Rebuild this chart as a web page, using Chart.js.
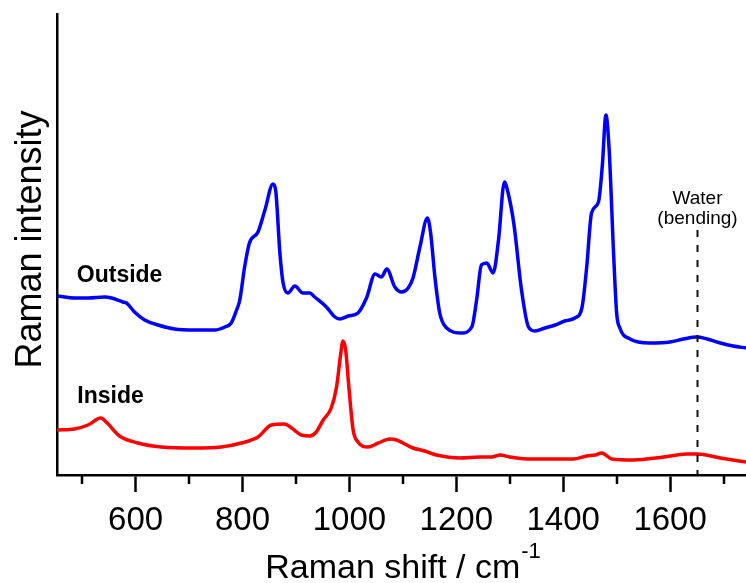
<!DOCTYPE html>
<html>
<head>
<meta charset="utf-8">
<script src="https://cdn.jsdelivr.net/npm/chart.js@4/dist/chart.umd.min.js"></script>
<style>
  html, body { margin: 0; padding: 0; background: #fff; }
  #wrap { width: 746px; height: 583px; position: relative; }
</style>
</head>
<body>
<div id="wrap"><canvas id="raman"></canvas></div>
<script>
// Raman spectra, outside vs inside (arbitrary intensity units, offset traces)
const outsideShift = [
  453, 486, 511, 542, 555, 576, 583, 598, 617, 642, 673, 710, 748, 767, 779, 789,
  795, 804, 813, 829, 842, 857, 862, 870, 876, 885, 898, 913, 926, 935, 957, 973,
  982, 998, 1016, 1032, 1048, 1060, 1070, 1085, 1098, 1110, 1119, 1132, 1146, 1152,
  1160, 1169, 1182, 1210, 1229, 1238, 1247, 1257, 1269, 1279, 1290, 1297, 1308,
  1322, 1335, 1347, 1366, 1385, 1403, 1422, 1435, 1444, 1453, 1466, 1473, 1480,
  1486, 1494, 1500, 1506, 1525, 1562, 1600, 1625, 1650, 1669, 1694, 1718, 1742
];
const outsideIntensity = [
  179, 177, 177, 178, 177, 173, 172, 163, 155, 150, 146, 145, 145, 148, 152, 165,
  175, 208, 232, 243, 265, 291, 285, 222, 192, 182, 189, 182, 182, 178, 168, 158,
  156, 159, 162, 177, 201, 198, 206, 188, 183, 187, 197, 228, 257, 242,
  198, 162, 147, 142, 148, 175, 210, 212, 202, 235, 293, 282, 250,
  185, 148, 144, 147, 150, 154, 157, 167, 208, 262, 273, 308, 360,
  325, 225, 162, 147, 136, 132, 133, 136, 138, 136, 132, 129, 127
];

const insideShift = [
  453, 486, 511, 535, 545, 570, 604, 648, 710, 760, 798, 829, 854, 879, 892, 910,
  926, 938, 951, 966, 976, 983, 988, 993, 999, 1007, 1016, 1035, 1054, 1076, 1088,
  1119, 1141, 1163, 1207, 1244, 1266, 1282, 1300, 1332, 1372, 1419, 1444, 1460,
  1472, 1491, 1531, 1588, 1631, 1650, 1694, 1742
];
const insideIntensity = [
  45, 46, 50, 57, 53, 39, 32, 28, 27, 28, 32, 38, 50, 51, 47, 40,
  39, 43, 55, 67, 88, 118, 134, 125, 88, 45, 33, 28, 32, 36, 35,
  27, 24, 20, 17, 18, 18, 20, 18, 16, 16, 16, 19, 20,
  22, 16, 15, 18, 21, 21, 17, 13
];

const majorTicks = [600, 800, 1000, 1200, 1400, 1600];
const minorTicks = [500, 700, 900, 1100, 1300, 1500, 1700];

const waterShift = 1650;   // water bending band marker
const waterTop = 245;      // top of the dashed marker, intensity units

const FONT = "'Liberation Sans', Arial, Helvetica, sans-serif";

const toPoints = (xs, ys) => xs.map((x, i) => ({ x, y: ys[i] }));

// Labels, marker line, minor ticks and axis titles
const decorations = {
  id: "decorations",
  afterDraw(chart) {
    const { ctx, chartArea, scales: { x, y } } = chart;
    ctx.save();

    // minor ticks
    ctx.strokeStyle = "#000";
    ctx.lineWidth = 2.5;
    ctx.beginPath();
    for (const v of minorTicks) {
      const px = Math.round(x.getPixelForValue(v));
      ctx.moveTo(px, chartArea.bottom);
      ctx.lineTo(px, chartArea.bottom + 9);
    }
    ctx.stroke();

    // water marker
    const wx = Math.round(x.getPixelForValue(waterShift)) + 0.5;
    ctx.setLineDash([7, 8]);
    ctx.lineWidth = 2;
    ctx.strokeStyle = "#111";
    ctx.beginPath();
    ctx.moveTo(wx, y.getPixelForValue(waterTop));
    ctx.lineTo(wx, chartArea.bottom);
    ctx.stroke();
    ctx.setLineDash([]);

    ctx.fillStyle = "#000";
    ctx.textAlign = "center";
    ctx.textBaseline = "alphabetic";
    ctx.font = `19px ${FONT}`;
    ctx.fillText("Water", wx, y.getPixelForValue(271));
    ctx.fillText("(bending)", wx, y.getPixelForValue(251));

    // trace labels
    ctx.textAlign = "left";
    ctx.font = `bold 23px ${FONT}`;
    ctx.fillText("Outside", x.getPixelForValue(490), y.getPixelForValue(193));
    ctx.fillText("Inside", x.getPixelForValue(491), y.getPixelForValue(72));

    // x axis title with superscript
    const main = "Raman shift / cm";
    const sup = "-1";
    ctx.font = `34px ${FONT}`;
    const wMain = ctx.measureText(main).width;
    ctx.font = `22px ${FONT}`;
    const wSup = ctx.measureText(sup).width;
    const cx = (chartArea.left + chartArea.right) / 2 + 1;
    const startX = cx - (wMain + wSup) / 2;
    ctx.font = `34px ${FONT}`;
    ctx.fillText(main, startX, 578);
    ctx.font = `22px ${FONT}`;
    ctx.fillText(sup, startX + wMain + 1, 558);

    // y axis title
    ctx.translate(41, (chartArea.top + chartArea.bottom) / 2 - 5);
    ctx.rotate(-Math.PI / 2);
    ctx.textAlign = "center";
    ctx.font = `36px ${FONT}`;
    ctx.fillText("Raman intensity", 0, 0);

    ctx.restore();
  }
};

new Chart(document.getElementById("raman"), {
  type: "line",
  data: {
    datasets: [
      {
        label: "Outside",
        data: toPoints(outsideShift, outsideIntensity),
        borderColor: "#0000ff",
        borderWidth: 3.5,
        pointRadius: 0,
        cubicInterpolationMode: "monotone",
        fill: false
      },
      {
        label: "Inside",
        data: toPoints(insideShift, insideIntensity),
        borderColor: "#ff0000",
        borderWidth: 3.5,
        pointRadius: 0,
        cubicInterpolationMode: "monotone",
        fill: false
      }
    ]
  },
  options: {
    responsive: true,
    maintainAspectRatio: false,
    animation: false,
    devicePixelRatio: 1,
    layout: { padding: { top: 14, right: 0, left: 0, bottom: 0 } },
    plugins: {
      legend: { display: false },
      tooltip: { enabled: false }
    },
    scales: {
      x: {
        type: "linear",
        min: 453,
        max: 1742,
        afterFit: (s) => { s.height = 108; },
        afterBuildTicks: (s) => { s.ticks = majorTicks.map(v => ({ value: v })); },
        border: { display: true, color: "#000", width: 2.5 },
        grid: {
          drawOnChartArea: false,
          drawTicks: true,
          tickLength: 17,
          tickWidth: 2.5,
          tickColor: "#000"
        },
        ticks: {
          autoSkip: false,
          maxRotation: 0,
          padding: 9,
          color: "#000",
          font: { family: FONT, size: 33 },
          callback: (v) => String(v)
        }
      },
      y: {
        min: 0,
        max: 461,
        afterFit: (s) => { s.width = 57; },
        border: { display: true, color: "#000", width: 2.5 },
        grid: { display: false },
        ticks: { display: false }
      }
    }
  },
  plugins: [decorations]
});
</script>
</body>
</html>
